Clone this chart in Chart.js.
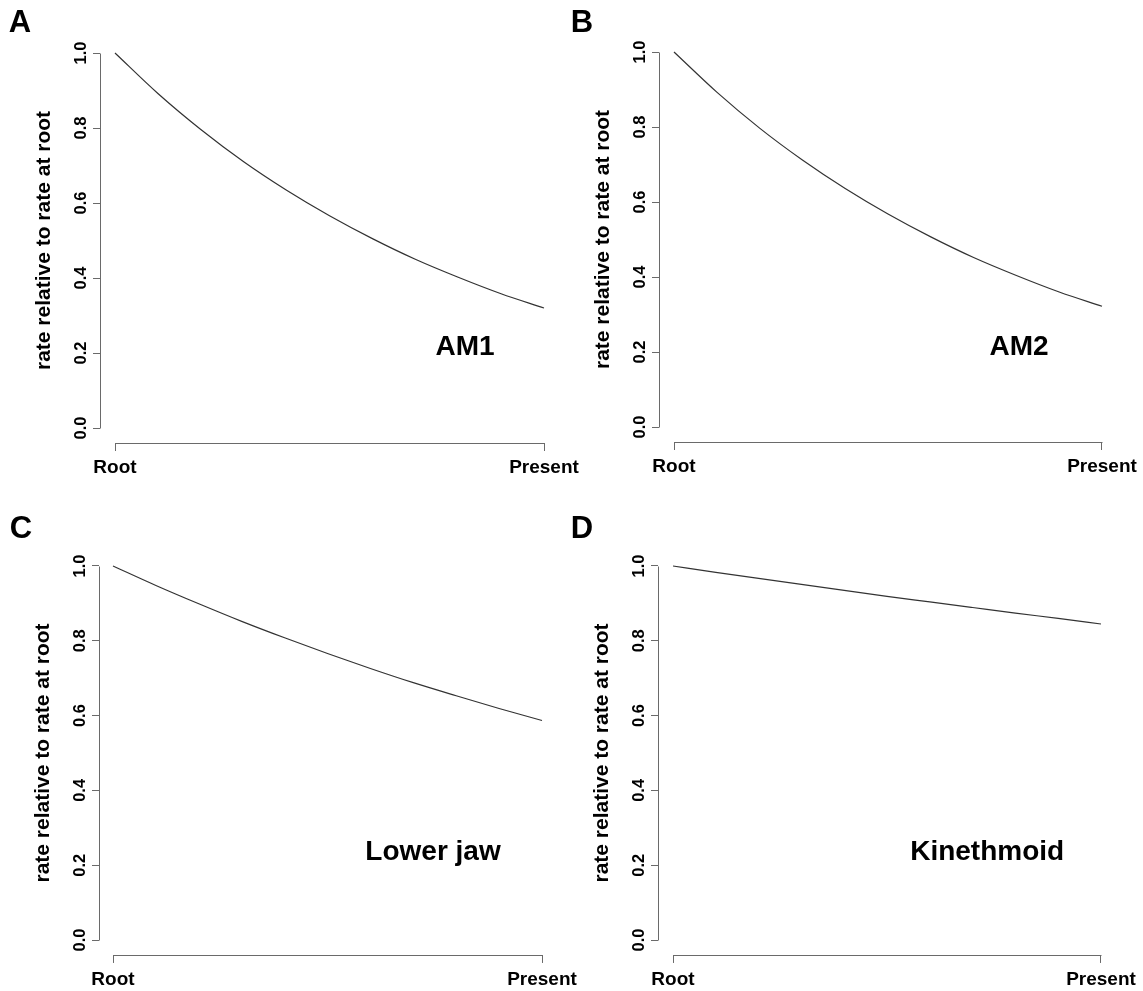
<!DOCTYPE html>
<html>
<head>
<meta charset="utf-8">
<script src="https://cdn.jsdelivr.net/npm/chart.js@4/dist/chart.umd.min.js"></script>
<style>
  html, body { margin: 0; padding: 0; background: #ffffff; }
  body { width: 1143px; height: 991px; position: relative; overflow: hidden; }
  canvas { position: absolute; }
</style>
</head>
<body>
<canvas id="cA"></canvas>
<canvas id="cB"></canvas>
<canvas id="cC"></canvas>
<canvas id="cD"></canvas>
<script>
// ---------------- data ----------------
const timeSteps = [0, 0.1, 0.2, 0.3, 0.4, 0.5, 0.6, 0.7, 0.8, 0.9, 1.0];
const seriesAM1 = [1.0, 0.892, 0.796, 0.710, 0.634, 0.566, 0.505, 0.450, 0.402, 0.358, 0.320];
const seriesAM2 = [1.0, 0.893, 0.797, 0.712, 0.636, 0.568, 0.507, 0.452, 0.404, 0.360, 0.322];
const seriesLowerJaw = [1.0, 0.948, 0.899, 0.852, 0.808, 0.766, 0.726, 0.688, 0.653, 0.619, 0.587];
const seriesKinethmoid = [1.0, 0.983, 0.967, 0.951, 0.935, 0.919, 0.904, 0.889, 0.874, 0.860, 0.845];
const yTickValues = [0.0, 0.2, 0.4, 0.6, 0.8, 1.0];
const xTickValues = [0, 1];
const xTickLabels = ['Root', 'Present'];
const yAxisTitle = 'rate relative to rate at root';
const panelLetters = ['A', 'B', 'C', 'D'];
const panelNames = ['AM1', 'AM2', 'Lower jaw', 'Kinethmoid'];
const noteX = [0.816, 0.806, 0.746, 0.734];
const noteY = [0.216, 0.213, 0.235, 0.235];
const panelSeries = [seriesAM1, seriesAM2, seriesLowerJaw, seriesKinethmoid];

// ---------------- layout (page pixels) ----------------
const panelLayout = [
  { id: 'cA', left: 0,   top: 0,   w: 600, h: 495, axisX: 100, root: 115, present: 544, y1: 53,  y0: 428, letterX: 20, letterY: 32 },
  { id: 'cB', left: 540, top: 0,   w: 603, h: 495, axisX: 659, root: 674, present: 1102, y1: 52, y0: 427, letterX: 42, letterY: 32 },
  { id: 'cC', left: 0,   top: 495, w: 600, h: 496, axisX: 99,  root: 113, present: 542, y1: 566, y0: 940, letterX: 21, letterY: 43 },
  { id: 'cD', left: 540, top: 495, w: 603, h: 496, axisX: 658, root: 673, present: 1101, y1: 566, y0: 940, letterX: 42, letterY: 43 }
];

const AXIS_COLOR = '#6a6a6a';
const FONT = 'Liberation Sans, Arial, Helvetica, sans-serif';

const rAxisPlugin = {
  id: 'rAxis',
  afterDraw(chart, args, opts) {
    const ctx = chart.ctx;
    const xs = chart.scales.x, ys = chart.scales.y;
    const ca = chart.chartArea;
    ctx.save();
    ctx.strokeStyle = AXIS_COLOR;
    ctx.lineWidth = 1;
    const ax = Math.round(ca.left) + 0.5;
    ctx.beginPath();
    ctx.moveTo(ax, Math.round(ys.getPixelForValue(yTickValues[0])) + 0.5);
    ctx.lineTo(ax, Math.round(ys.getPixelForValue(yTickValues[yTickValues.length - 1])) + 0.5);
    ctx.stroke();
    const ay = Math.round(ca.bottom) + 0.5;
    ctx.beginPath();
    ctx.moveTo(Math.round(xs.getPixelForValue(xTickValues[0])) + 0.5, ay);
    ctx.lineTo(Math.round(xs.getPixelForValue(xTickValues[xTickValues.length - 1])) + 0.5, ay);
    ctx.stroke();
    ctx.fillStyle = '#000';
    ctx.font = 'bold 28px ' + FONT;
    ctx.textAlign = 'center';
    ctx.textBaseline = 'middle';
    ctx.fillText(opts.name, xs.getPixelForValue(opts.nx), ys.getPixelForValue(opts.ny));
    ctx.font = 'bold 31px ' + FONT;
    ctx.textBaseline = 'alphabetic';
    ctx.fillText(opts.letter, opts.lx, opts.ly);
    ctx.restore();
  }
};

panelLayout.forEach((p, i) => {
  const cv = document.getElementById(p.id);
  cv.width = p.w; cv.height = p.h;
  cv.style.left = p.left + 'px'; cv.style.top = p.top + 'px';
  cv.style.width = p.w + 'px'; cv.style.height = p.h + 'px';

  const unitX = p.present - p.root;
  const unitY = p.y0 - p.y1;
  const xMin = -(p.root - p.axisX) / unitX;
  const xMax = 1.04;
  const chartLeft = p.axisX - p.left;
  const chartRight = p.root + xMax * unitX - p.left;
  const chartTop = p.y1 - 0.04 * unitY - p.top;
  const chartBottom = p.y0 + 0.04 * unitY - p.top;
  const yScaleWidth = chartLeft;
  const xScaleHeight = p.h - chartBottom;
  const titleCenter = 56;
  const titlePad = chartLeft - titleCenter - 12.6;

  const data = timeSteps.map((t, k) => ({ x: t, y: panelSeries[i][k] }));

  new Chart(cv, {
    type: 'line',
    data: {
      datasets: [{
        data: data,
        borderColor: '#333333',
        borderWidth: 1.2,
        pointRadius: 0,
        fill: false,
        cubicInterpolationMode: 'monotone'
      }]
    },
    options: {
      responsive: false,
      animation: false,
      devicePixelRatio: 1,
      layout: { padding: { left: 0, top: chartTop, right: p.w - chartRight, bottom: 0 } },
      plugins: {
        legend: { display: false },
        tooltip: { enabled: false },
        rAxis: { name: panelNames[i], nx: noteX[i], ny: noteY[i], letter: panelLetters[i], lx: p.letterX, ly: p.letterY }
      },
      scales: {
        x: {
          type: 'linear',
          min: xMin,
          max: xMax,
          afterBuildTicks: (s) => { s.ticks = xTickValues.map(v => ({ value: v })); },
          afterFit: (s) => { s.height = xScaleHeight; },
          border: { display: false },
          grid: { display: true, drawOnChartArea: false, drawTicks: true, tickLength: 8, color: AXIS_COLOR, lineWidth: 1 },
          ticks: {
            autoSkip: false, maxRotation: 0, minRotation: 0, padding: 5,
            color: '#000',
            font: { family: FONT, size: 19, weight: 'bold' },
            callback: (v, idx) => xTickLabels[idx]
          }
        },
        y: {
          type: 'linear',
          min: -0.04,
          max: 1.04,
          afterBuildTicks: (s) => { s.ticks = yTickValues.map(v => ({ value: v })); },
          afterFit: (s) => { s.width = yScaleWidth; },
          border: { display: false },
          grid: { display: true, drawOnChartArea: false, drawTicks: true, tickLength: 7, color: AXIS_COLOR, lineWidth: 1 },
          ticks: {
            minRotation: 90, maxRotation: 90, crossAlign: 'center', padding: 0,
            color: '#000',
            font: { family: FONT, size: 16.5, weight: 'bold' },
            callback: (v) => Number(v).toFixed(1)
          },
          title: {
            display: true,
            text: yAxisTitle,
            color: '#000',
            font: { family: FONT, size: 21, weight: 'bold' },
            padding: { top: titlePad, bottom: 0 }
          }
        }
      }
    },
    plugins: [rAxisPlugin]
  });
});
</script>
</body>
</html>
